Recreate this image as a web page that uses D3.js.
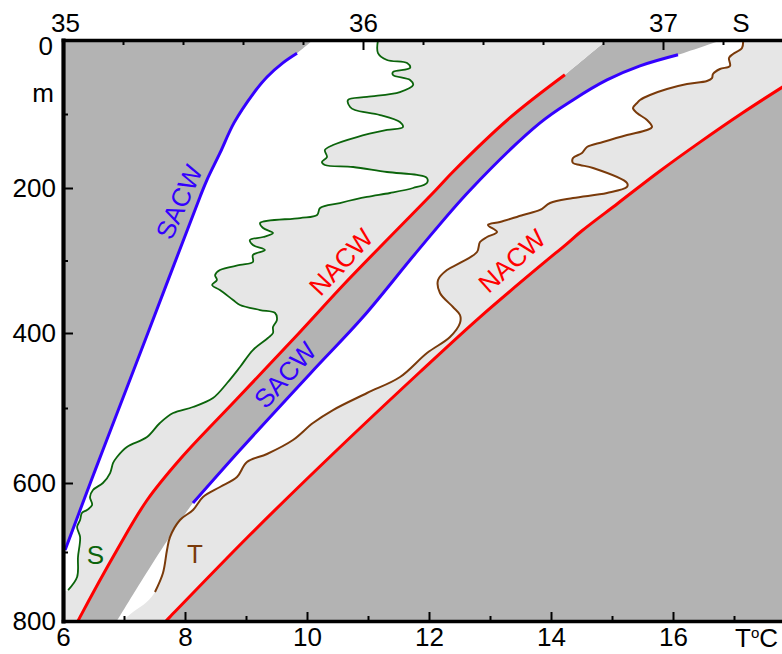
<!DOCTYPE html>
<html><head><meta charset="utf-8">
<script src="https://cdn.jsdelivr.net/npm/d3@7"></script>
<style>
body{margin:0;background:#fff}
text{font-family:"Liberation Sans",Arial,Helvetica,sans-serif}
</style>
</head><body>
<svg id="chart" width="782" height="654"></svg>
<script>
// ---- tick values ----
const salinityTicks = [35, 36, 37];
const salinityMinor = [35.2, 35.4, 35.6, 35.8, 36.2, 36.4, 36.6, 36.8, 37.2];
const tempTicks = [6, 8, 10, 12, 14, 16];
const tempMinor = [7, 9, 11, 13, 15, 17];
const depthTicks = [0, 200, 400, 600, 800];
const depthMinor = [100, 300, 500, 700];

// ---- water-mass reference profiles ----
// salinity profiles: [salinity, depth m]
const sacwS = [[35.78,18],[35.733,31],[35.68,50],[35.635,72],[35.57,112],[35.523,153],[35.48,189],[35.457,212],[35.283,400],[35.133,556],[35.091,600],[35.007,697]];
const nacwS = [[36.673,47],[36.49,105],[36.3,178],[36.242,203],[35.95,327],[35.787,400],[35.577,489],[35.393,567],[35.28,625],[35.18,697],[35.057,794],[35.05,800]];
// temperature profiles: [temperature C, depth m]
const sacwT = [[16.082,20],[15.459,35],[14.918,54],[14.361,81],[13.82,112],[12.672,203],[11.82,286],[10.918,378],[10.066,453],[8.902,556],[8.131,629]];
const nacwT = [[18.08,49],[17.787,64],[17.131,99],[16.443,138],[15.77,178],[15.098,221],[14.508,259],[14.23,279],[13.885,303],[12.836,378],[11.852,452],[10.492,556],[9.066,675],[7.754,794],[7.689,800]];

// shading-boundary continuations beyond the drawn lines
const sacwSTop = [[35.833,0]];
const sacwSBottom = [[34.99,703],[34.99,800]];
const nacwSTop = [[36.813,0]];
const sacwTTop = [[16.803,0]];
const sacwTBottom = [[6.885,800]];
const nacwTTop = [[18.08,0]];

// ---- observed profiles ----
const sProfile = [[36.05,0],[36.05,17.6],[36.08,27],[36.147,31.1],[36.157,37.8],[36.1,43.2],[36.1,47.3],[36.157,54.1],[36.167,60.8],[36.123,70.3],[36.013,77],[35.95,81.1],[35.957,90.5],[35.973,94.6],[36.057,101.4],[36.123,110.8],[36.133,117.6],[36.08,121.6],[35.98,131.1],[35.9,141.9],[35.873,148.7],[35.88,158.1],[35.863,164.9],[35.873,168.9],[35.967,171.6],[36.08,178.4],[36.18,182.4],[36.213,186.5],[36.213,193.2],[36.167,200],[36.09,206.9],[36.013,212.4],[35.923,220.7],[35.857,227.6],[35.847,237.2],[35.79,241.4],[35.657,248.3],[35.667,255.2],[35.7,262.1],[35.667,267.6],[35.623,271.7],[35.633,278.6],[35.673,285.5],[35.633,292.4],[35.633,302.1],[35.59,306.2],[35.523,313.1],[35.507,320],[35.513,326.9],[35.497,333.8],[35.523,340.7],[35.567,354.5],[35.59,361.4],[35.657,368.3],[35.707,372.4],[35.713,382.1],[35.7,391.7],[35.7,400],[35.683,406.7],[35.633,422.7],[35.59,445.3],[35.547,466.7],[35.5,486.7],[35.433,498.7],[35.367,506.7],[35.323,520],[35.28,538.7],[35.213,552],[35.18,565.3],[35.167,573.3],[35.157,586.7],[35.133,600],[35.1,610.1],[35.09,620.3],[35.097,631.9],[35.08,639.1],[35.063,643.5],[35.057,653.6],[35.047,663.8],[35.057,678.3],[35.05,707.2],[35.047,736.2],[35.017,755.1]];
const sProfileTail = [[34.99,760],[34.99,800]];

const tProfile = [[17.148,0],[17.131,10.8],[16.984,18.9],[16.918,24.3],[16.934,35.1],[16.77,39.2],[16.656,45.9],[16.639,51.4],[16.557,55.4],[16.23,59.5],[15.902,66.2],[15.623,74.3],[15.459,81.1],[15.41,85.1],[15.344,91.9],[15.41,98.7],[15.574,108.1],[15.656,117.6],[15.574,121.6],[15.246,128.4],[14.852,137.8],[14.59,144.6],[14.508,152.7],[14.361,159.5],[14.361,166.2],[14.475,168.9],[14.689,173],[15.246,193.3],[15.246,198.6],[14.918,206.9],[14.361,213.8],[13.984,220.7],[13.82,230.3],[13.541,237.2],[13.164,246.9],[12.967,251],[13.115,260.7],[12.951,267.6],[12.836,274.5],[12.787,288.3],[12.508,303.4],[12.295,313.1],[12.148,326.9],[12.18,344.8],[12.393,364.1],[12.508,375.2],[12.508,386.2],[12.344,405.3],[11.967,426.7],[11.525,458.7],[10.984,480],[10.426,502.7],[10.098,520],[9.77,542.7],[9.344,561.3],[9.016,572],[8.852,592],[8.574,605.8],[8.295,620.3],[8.131,639.1],[7.918,653.6],[7.754,678.3],[7.705,697.1],[7.639,730.4],[7.508,757.9]];
const tProfileTail = [[7.377,772],[7.148,787],[6.967,800]];

// ---- drawing ----
const C = {dark:"#b3b3b3", light:"#e6e6e6", blue:"#3300ff", red:"#ff0000", green:"#0b640b", brown:"#7a3a0a"};
const svg = d3.select("#chart");
const xS = d3.scaleLinear().domain([35, 37.4]).range([63, 783]);
const xT = d3.scaleLinear().domain([6, 17.8]).range([63, 782.8]);
const yD = d3.scaleLinear().domain(depthTicks).range([40, 188, 333, 483, 621]);

const curve = d3.curveCatmullRom.alpha(0.5);
const lineS = d3.line().x(d => xS(d[0])).y(d => yD(d[1])).curve(curve);
const lineT = d3.line().x(d => xT(d[0])).y(d => yD(d[1])).curve(curve);
const poly = (gen, a, b) => gen(a) + gen(b).replace(/^M/, "L") + "Z";
const rev = a => a.slice().reverse();

svg.append("defs").append("clipPath").attr("id","plot")
  .append("rect").attr("x",63).attr("y",40).attr("width",720).attr("height",581);

const plot = svg.append("g").attr("clip-path","url(#plot)");
plot.append("rect").attr("x",63).attr("y",40).attr("width",720).attr("height",581).attr("fill",C.dark);

// salinity envelope (white) and S-to-NACW band (light)
plot.append("path").attr("fill","#fff")
  .attr("d", poly(lineS, [...sacwSTop, ...sacwS, ...sacwSBottom], [...rev(nacwS), ...nacwSTop]));
plot.append("path").attr("fill",C.light)
  .attr("d", poly(lineS, [...sProfile, ...sProfileTail], [...rev(nacwS), ...nacwSTop]));
// temperature envelope (white) and T-to-NACW band (light)
plot.append("path").attr("fill","#fff")
  .attr("d", poly(lineT, [...sacwTTop, ...sacwT, ...sacwTBottom], [...rev(nacwT), ...nacwTTop]));
plot.append("path").attr("fill",C.light)
  .attr("d", poly(lineT, [...tProfile, ...tProfileTail], [...rev(nacwT), ...nacwTTop]));

// lines
const lines = [
  [lineS, sacwS, C.blue, 3], [lineS, nacwS, C.red, 3],
  [lineT, sacwT, C.blue, 3], [lineT, nacwT, C.red, 3],
  [lineS, sProfile, C.green, 1.8], [lineT, tProfile, C.brown, 2]
];
lines.forEach(([g, d, c, w]) => plot.append("path").attr("d", g(d)).attr("fill","none")
  .attr("stroke", c).attr("stroke-width", w).attr("stroke-linejoin","round"));

// labels on the plot
const lab = [
  ["SACW", 179, 202, -66, C.blue],
  ["NACW", 341, 262, -47, C.red],
  ["SACW", 285, 375, -48, C.blue],
  ["NACW", 512, 261, -42, C.red],
  ["S", 95.5, 555, 0, C.green],
  ["T", 195, 554, 0, C.brown]
];
lab.forEach(([t, x, y, a, c]) => svg.append("text").text(t)
  .attr("transform", `translate(${x},${y}) rotate(${a})`)
  .attr("text-anchor","middle").attr("dy","0.35em")
  .attr("font-size",26).attr("fill",c));

// axes
function styleAxis(g, major) {
  g.attr("font-size",26).attr("font-family",'"Liberation Sans",Arial,sans-serif');
  g.selectAll(".tick line").attr("stroke-width", 2);
  if (major) g.select(".domain").attr("stroke-width", 3.6).attr("stroke-linecap","square");
  else g.select(".domain").remove();
}
// top: salinity
svg.append("g").attr("transform","translate(0,40)")
  .call(d3.axisTop(xS).tickValues(salinityMinor).tickSize(-5).tickSizeOuter(0).tickFormat(""))
  .call(g => styleAxis(g, false));
const xAxTop = svg.append("g").attr("transform","translate(0,40)")
  .call(d3.axisTop(xS).tickValues(salinityTicks).tickSize(-10).tickSizeOuter(0).tickPadding(8).tickFormat(d3.format("d")))
  .call(g => styleAxis(g, true));
xAxTop.selectAll(".tick text").filter(d => d === 35).attr("x", 2);
// bottom: temperature
svg.append("g").attr("transform","translate(0,621)")
  .call(d3.axisBottom(xT).tickValues(tempMinor).tickSize(-5).tickSizeOuter(0).tickFormat(""))
  .call(g => styleAxis(g, false));
svg.append("g").attr("transform","translate(0,621)")
  .call(d3.axisBottom(xT).tickValues(tempTicks).tickSize(-9).tickSizeOuter(0).tickPadding(7).tickFormat(d3.format("d")))
  .call(g => styleAxis(g, true));
// left: depth
svg.append("g").attr("transform","translate(63,0)")
  .call(d3.axisLeft(yD).tickValues(depthMinor).tickSize(-5).tickSizeOuter(0).tickFormat(""))
  .call(g => styleAxis(g, false));
const yAx = svg.append("g").attr("transform","translate(63,0)")
  .call(d3.axisLeft(yD).tickValues(depthTicks).tickSize(-10).tickSizeOuter(0).tickPadding(7).tickFormat(d3.format("d")))
  .call(g => styleAxis(g, true));
yAx.select(".domain").attr("stroke-width", 4.2);
yAx.selectAll(".tick text").filter(d => d === 0).attr("y", 6).attr("x", -10);

// axis unit labels
svg.append("text").text("m").attr("x",43).attr("y",93).attr("dy","0.35em")
  .attr("text-anchor","middle").attr("font-size",26);
svg.append("text").text("S").attr("x",741).attr("y",32)
  .attr("text-anchor","middle").attr("font-size",26);
const tc = svg.append("text").attr("x",735).attr("y",647).attr("font-size",26);
tc.append("tspan").text("T");
tc.append("tspan").text("o").attr("font-size",15).attr("dy",-9);
tc.append("tspan").text("C").attr("dy",9);
</script>
</body></html>
